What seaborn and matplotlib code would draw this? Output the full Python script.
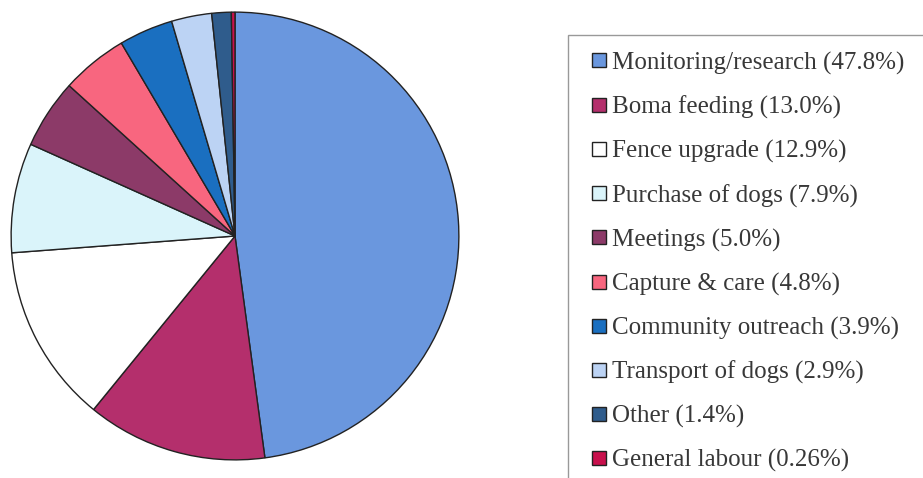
import matplotlib
matplotlib.use("Agg")
import matplotlib.pyplot as plt
import seaborn as sns
from matplotlib.patches import Patch, Rectangle
from matplotlib.legend_handler import HandlerPatch

categories = ["Monitoring/research", "Boma feeding", "Fence upgrade", "Purchase of dogs",
              "Meetings", "Capture & care", "Community outreach", "Transport of dogs",
              "Other", "General labour"]
values = [47.8, 13.0, 12.9, 7.9, 5.0, 4.8, 3.9, 2.9, 1.4, 0.26]
value_labels = ["47.8%", "13.0%", "12.9%", "7.9%", "5.0%", "4.8%", "3.9%", "2.9%", "1.4%", "0.26%"]
colors = ["#6A97DE", "#B42F6C", "#FFFFFF", "#DAF4FA", "#8C3A68", "#F8667F",
          "#1A6FC0", "#BCD3F4", "#2F5C8C", "#C8104C"]

sns.set_theme(style="white")
plt.rcParams['font.family'] = ['Liberation Serif', 'DejaVu Serif']

fig = plt.figure(figsize=(9.23, 4.78), dpi=100)
W, H = 923, 478
cx, cy, r = 235, 236, 225
ax = fig.add_axes([(cx - r) / W, (H - cy - r) / H, 2 * r / W, 2 * r / H])
wedges, _ = ax.pie(values, colors=colors, startangle=90, counterclock=False,
                   wedgeprops=dict(edgecolor="#222222", linewidth=1.0), radius=1.0)
ax.set_xlim(-1.005, 1.005)
ax.set_ylim(-1.005, 1.005)
ax.set_aspect("equal")
ax.axis("off")


def square_patch(legend, orig_handle, xdescent, ydescent, width, height, fontsize):
    s = 14 * 72 / 100.0  # square side in points
    return Rectangle((-xdescent + width - s, -ydescent + (height - s) / 2), s, s)


labels = [f"{c} ({v})" for c, v in zip(categories, value_labels)]
handles = [Patch(facecolor=c, edgecolor="#222222", linewidth=1.0) for c in colors]
leg = fig.legend(handles, labels, loc="upper left",
                 bbox_to_anchor=(568 / W, 1 - 39 / H),
                 frameon=False, fontsize=18, handlelength=1.02, handleheight=0.7,
                 handletextpad=0.22, labelspacing=0.84, borderpad=0.5,
                 borderaxespad=0,
                 handler_map={Patch: HandlerPatch(patch_func=square_patch)})
for t in leg.get_texts():
    t.set_color("#383838")

# legend box, running off the right and bottom edges as in the reference
fig.add_artist(Rectangle((568 / W, -0.1), 1.0, (H - 35) / H + 0.1,
                         transform=fig.transFigure, fill=False,
                         edgecolor="#999999", linewidth=1.0))

fig.savefig("out.png", dpi=100)
